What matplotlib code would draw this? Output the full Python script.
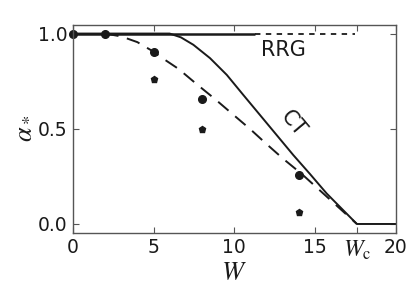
import matplotlib
matplotlib.use('Agg')
import matplotlib.pyplot as plt

plt.rcParams['mathtext.fontset'] = 'stix'
plt.rcParams['font.family'] = 'DejaVu Sans'

W_c = 17.6

# RRG line
rrg_solid_w = [0, 11.3]
rrg_solid_a = [1.0, 1.0]
rrg_dash_w = [11.3, 17.5]
rrg_dash_a = [1.0, 1.0]

# CT curve
ct_w = [0, 6.0, 6.7, 7.47, 8.5, 9.54, 10.56, 11.6, 12.63, 13.66, 14.7, 15.73, W_c, 20]
ct_a = [1.0, 1.0, 0.98, 0.941, 0.871, 0.783, 0.678, 0.572, 0.467, 0.362, 0.262, 0.16, 0.0, 0.0]

# dashed curve
dash_w = [2, 3, 4, 5, 5.41, 6.54, 7.68, 8.81, 9.94, 10.98, 12.0, 13.04, 14.18, W_c]
dash_a = [1.0, 0.985, 0.955, 0.905, 0.879, 0.815, 0.734, 0.656, 0.574, 0.499, 0.42, 0.342, 0.263, 0.0]

# data points
circ_w = [0, 2, 5, 8, 14]
circ_a = [1.0, 1.0, 0.902, 0.657, 0.256]
pent_w = [5, 8, 14]
pent_a = [0.764, 0.498, 0.063]

fig = plt.figure(figsize=(4.16, 2.93), dpi=100)
ax = fig.add_axes([0.175, 0.205, 0.776, 0.711])

ink = '#1a1a1a'
ax.plot(rrg_solid_w, rrg_solid_a, color=ink, lw=1.8, solid_capstyle='butt')
ax.plot(rrg_dash_w, rrg_dash_a, color=ink, lw=1.3, dashes=(3, 3))
ax.plot(ct_w, ct_a, color=ink, lw=1.4)
ax.plot(dash_w, dash_a, color=ink, lw=1.4, dashes=(7, 4.5))
ax.plot(circ_w, circ_a, 'o', color=ink, ms=5.5, clip_on=False)
ax.plot(pent_w, pent_a, 'p', color=ink, ms=4.5)

ax.text(13.04, 0.915, 'RRG', fontsize=15, ha='center', va='center', color=ink)
ax.text(13.66, 0.525, 'CT', fontsize=15, ha='center', va='center', rotation=-50, color=ink)

ax.set_xlim(0, 20)
ax.set_ylim(-0.047, 1.047)
ax.set_xticks([0, 5, 10, 15, W_c, 20])
ax.set_xticklabels(['0', '5', '10', '15', r'$W_\mathrm{c}$', '20'])
ax.set_yticks([0.0, 0.5, 1.0])
ax.set_yticklabels(['0.0', '0.5', '1.0'])
ax.tick_params(direction='in', top=True, right=True, labelsize=13.5, length=4,
               width=0.8, colors='#555555', labelcolor=ink, pad=4)
for lab in ax.get_xticklabels():
    if 'W' in lab.get_text():
        lab.set_fontsize(17)
for sp in ax.spines.values():
    sp.set_color('#555555')
    sp.set_linewidth(1.0)

ax.set_xlabel(r'$W$', fontsize=19, labelpad=-2, color=ink)
ax.set_ylabel(r'$\alpha_*$', fontsize=19, labelpad=2, color=ink)

fig.savefig('out.png', dpi=100)
